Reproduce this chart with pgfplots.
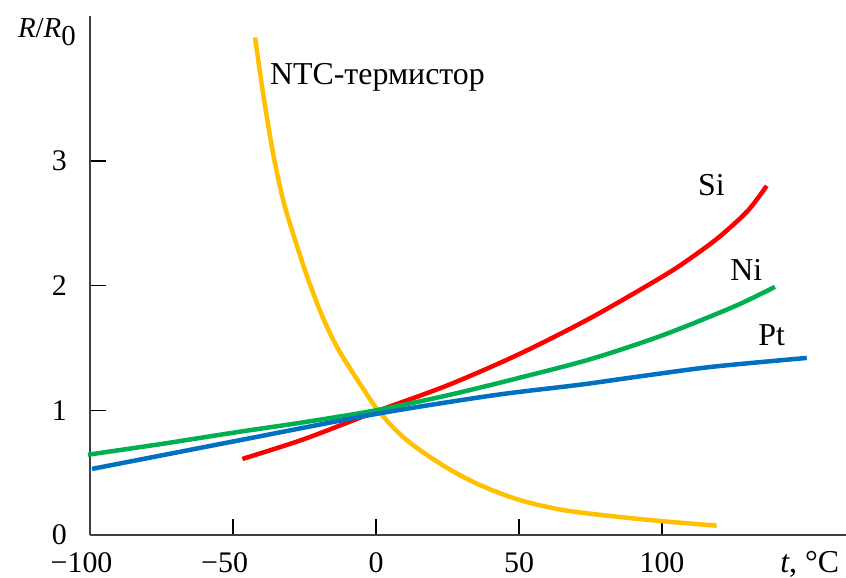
\documentclass[border=0pt]{standalone}
\usepackage{fontspec}
\setmainfont{Liberation Serif}
\usepackage{pgfplots}
\pgfplotsset{compat=1.18}
\definecolor{ntc}{RGB}{255,192,0}
\definecolor{si}{RGB}{255,0,0}
\definecolor{ni}{RGB}{0,176,80}
\definecolor{pt}{RGB}{0,112,192}
\newcommand{\fs}{\fontsize{30}{34}\selectfont}
\newcommand{\fl}{\fontsize{32}{36}\selectfont}
\begin{document}
\begin{tikzpicture}
\begin{axis}[
  x=2.86bp, y=124.7bp,
  xmin=-100, xmax=164.3, ymin=0, ymax=4.162,
  axis lines=left,
  axis line style={-, draw=black!75, line width=1.6bp},
  tick align=inside, major tick length=16bp,
  tick style={black, line width=1.3bp},
  xtick={-100,-50,0,50,100},
  xticklabels={\llap{−}100,\llap{−}50,0,50,100},
  ytick={0,1,2,3}, yticklabels={0,1,2,3},
  xticklabel style={anchor=base, yshift=-37bp, font=\fs},
  yticklabel style={anchor=east, xshift=-23bp, inner sep=0pt, font=\fs},
  clip=false,
  every axis plot/.append style={line width=4.5bp, smooth, no markers},
]
\coordinate (O) at (axis cs:-100,0);
\addplot[ntc] coordinates {(-42.3,3.99) (-39.4,3.53) (-35.9,3.05) (-32.4,2.68) (-28.9,2.41) (-24.2,2.08) (-19.6,1.80) (-15.5,1.59) (-11.4,1.42) (-4.4,1.17) (-0.3,1.03) (6.1,0.86) (13.0,0.72) (24.7,0.54) (36.4,0.40) (50.3,0.28) (65.5,0.20) (83,0.15) (100.5,0.11) (119.1,0.075)};
\addplot[si] coordinates {(-46.7,0.61) (-25,0.77) (0,0.99) (25,1.20) (50,1.45) (75,1.74) (100,2.07) (110,2.22) (120,2.39) (130,2.60) (136.6,2.80)};
\addplot[ni] coordinates {(-100.7,0.644) (-75,0.73) (-50,0.82) (-25,0.905) (0,1.0) (25,1.12) (50,1.26) (75,1.41) (100,1.60) (125,1.83) (139.5,1.99)};
\addplot[pt] coordinates {(-99.3,0.53) (-49.9,0.75) (-0.1,0.97) (41,1.12) (71.3,1.205) (94.7,1.28) (118,1.35) (150.6,1.42)};
\node[anchor=base west, inner sep=0pt, font=\fl] at (axis cs:-37.1,3.61) {NTC-термистор};
\node[anchor=base west, inner sep=0pt, font=\fl] at (axis cs:112.6,2.72) {Si};
\node[anchor=base west, inner sep=0pt, font=\fl] at (axis cs:123.8,2.04) {Ni};
\node[anchor=base west, inner sep=0pt, font=\fl] at (axis cs:133.6,1.52) {Pt};
\node[anchor=base east, inner sep=0pt, font=\fontsize{29}{32}\selectfont, xshift=-14bp] at (axis cs:-100,3.99) {\textit{R}/\textit{R}\raisebox{-8bp}{0}};
\node[anchor=base east, inner sep=0pt, font=\fl] at (axis cs:162,0) [yshift=-37bp] {\textit{t}, °C};
\end{axis}
\pgfresetboundingbox
\path ([shift={(-90bp,-43bp)}]O) rectangle ([shift={(756bp,535bp)}]O);
\end{tikzpicture}
\end{document}
